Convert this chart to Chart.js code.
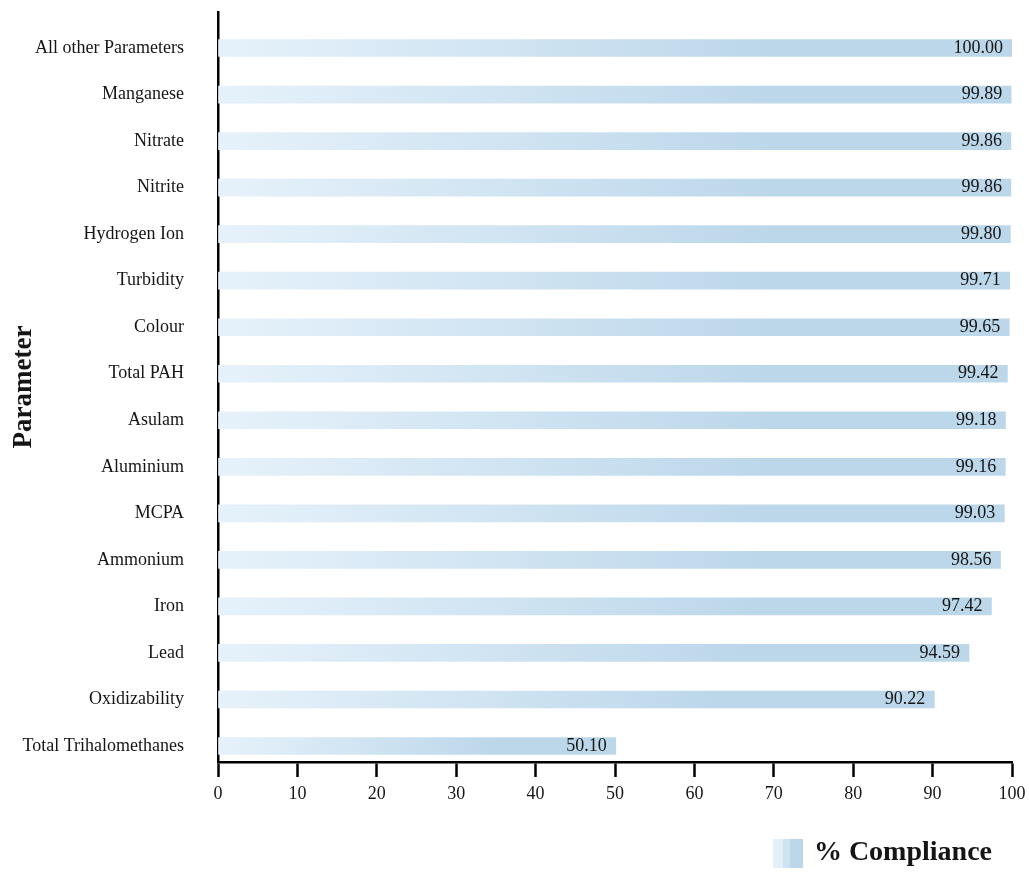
<!DOCTYPE html>
<html>
<head>
<meta charset="utf-8">
<script src="https://cdn.jsdelivr.net/npm/chart.js@4/dist/chart.umd.min.js"></script>
<style>
  html, body { margin: 0; padding: 0; background: #fff; }
  #wrap { width: 1029px; height: 873px; }
</style>
</head>
<body>
<div id="wrap"><canvas id="chart1"></canvas></div>
<script>
const parameters = ["All other Parameters", "Manganese", "Nitrate", "Nitrite", "Hydrogen Ion", "Turbidity",
    "Colour", "Total PAH", "Asulam", "Aluminium", "MCPA", "Ammonium", "Iron", "Lead", "Oxidizability",
    "Total Trihalomethanes"];
const compliance = [100.00, 99.89, 99.86, 99.86, 99.80, 99.71, 99.65, 99.42, 99.18, 99.16, 99.03, 98.56,
    97.42, 94.59, 90.22, 50.10];
const xTicks = [0, 10, 20, 30, 40, 50, 60, 70, 80, 90, 100];

const serif = '"Liberation Serif", "Times New Roman", serif';
const ink = '#151515';
const light = '#e6f2fb';
const dark = '#bcd7ea';

// legend swatch: little striped square, light to dark
const swatch = document.createElement('canvas');
swatch.width = 30;
swatch.height = 29;
const sctx = swatch.getContext('2d');
const sg = sctx.createLinearGradient(0, 0, 30, 0);
sg.addColorStop(0, '#e3f0fa');
sg.addColorStop(0.33, '#e3f0fa');
sg.addColorStop(0.34, '#cfe2f1');
sg.addColorStop(0.55, '#cfe2f1');
sg.addColorStop(0.56, dark);
sg.addColorStop(1, dark);
sctx.fillStyle = sg;
sctx.fillRect(0, 0, 30, 29);

// each bar fades from light at the axis to the mid blue
function barFill(ctx) {
    const chart = ctx.chart;
    if (!chart.chartArea || !ctx.parsed) return dark;
    const xs = chart.scales.x;
    const x0 = xs.getPixelForValue(0);
    const x1 = xs.getPixelForValue(ctx.parsed.x);
    if (!isFinite(x1) || x1 <= x0) return dark;
    const g = chart.ctx.createLinearGradient(x0, 0, x1, 0);
    g.addColorStop(0, light);
    g.addColorStop(0.7, dark);
    g.addColorStop(1, dark);
    return g;
}

const valueLabels = {
    id: 'valueLabels',
    afterDatasetsDraw(chart) {
        const c = chart.ctx;
        const meta = chart.getDatasetMeta(0);
        c.save();
        c.font = '18px ' + serif;
        c.fillStyle = ink;
        c.textAlign = 'right';
        c.textBaseline = 'middle';
        meta.data.forEach((bar, i) => {
            c.fillText(compliance[i].toFixed(2), bar.x - 9, bar.y);
        });
        c.restore();
    }
};

new Chart("chart1", {
    type: "bar",
    data: {
        datasets: [{
            label: '% Compliance',
            data: compliance.map((v, i) => ({ x: v, y: i })),
            backgroundColor: barFill,
            borderWidth: 0,
            barThickness: 17,
            pointStyle: swatch
        }]
    },
    options: {
        indexAxis: 'y',
        responsive: true,
        maintainAspectRatio: false,
        animation: false,
        layout: { padding: { top: 12, right: 17, left: 0, bottom: -4 } },
        scales: {
            x: {
                type: 'linear',
                position: 'bottom',
                min: 0,
                max: 100,
                afterBuildTicks: (scale) => { scale.ticks = xTicks.map(v => ({ value: v })); },
                afterFit: (scale) => { scale.height = 57; scale.paddingRight = 0; },
                ticks: {
                    color: ink,
                    font: { family: serif, size: 18 },
                    padding: 6,
                    maxRotation: 0
                },
                grid: {
                    display: true,
                    drawOnChartArea: false,
                    drawTicks: true,
                    tickLength: 15,
                    tickWidth: 2.5,
                    tickColor: '#000'
                },
                border: { display: true, color: '#000', width: 2.5 }
            },
            y: {
                type: 'linear',
                reverse: true,
                offset: false,
                min: -0.774,
                max: 15.344,
                afterBuildTicks: (scale) => { scale.ticks = parameters.map((p, i) => ({ value: i })); },
                afterFit: (scale) => {
                    scale.width = 218;
                    scale.paddingTop = 0;
                    scale.paddingBottom = 0;
                },
                ticks: {
                    color: ink,
                    font: { family: serif, size: 18 },
                    padding: 34,
                    callback: (v) => parameters[v]
                },
                grid: { display: false, drawTicks: false, offset: false },
                border: { display: true, color: '#000', width: 2.5 },
                title: {
                    display: true,
                    text: 'Parameter',
                    color: ink,
                    font: { family: serif, size: 27, weight: 'bold' },
                    padding: { top: 8, bottom: 0 }
                }
            }
        },
        plugins: {
            legend: {
                display: true,
                position: 'bottom',
                align: 'end',
                labels: {
                    usePointStyle: true,
                    boxWidth: 24,
                    boxHeight: 29,
                    pointStyleWidth: 24,
                    padding: 20,
                    color: ink,
                    font: { family: serif, size: 28, weight: 'bold' }
                }
            },
            tooltip: { enabled: false }
        }
    },
    plugins: [valueLabels]
});
</script>
</body>
</html>
